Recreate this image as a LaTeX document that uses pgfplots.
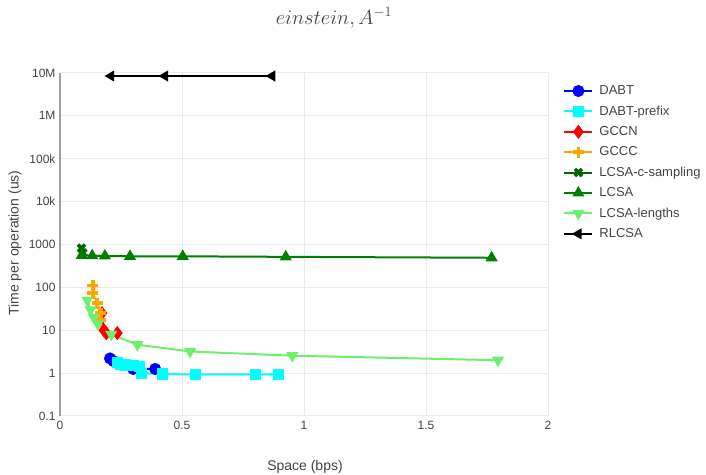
\documentclass[border=0pt]{standalone}
\usepackage{pgfplots}
\pgfplotsset{compat=1.18}
\usepackage{fontspec}
\setmainfont{Liberation Sans}
\definecolor{txt}{RGB}{68,68,68}
\definecolor{gridc}{RGB}{235,235,235}
\definecolor{axc}{RGB}{160,160,160}
\definecolor{cdabt}{RGB}{0,0,255}
\definecolor{cpref}{RGB}{0,255,255}
\definecolor{cgccn}{RGB}{255,0,0}
\definecolor{cgccc}{RGB}{255,165,0}
\definecolor{ccsamp}{RGB}{0,100,0}
\definecolor{clcsa}{RGB}{0,128,0}
\definecolor{clen}{RGB}{110,240,110}
\begin{document}
\begin{tikzpicture}[x=1bp,y=1bp]
\useasboundingbox (0,0) rectangle (706,475);
\begin{axis}[
  at={(60bp,59bp)}, anchor=south west,
  scale only axis, width=488bp, height=343bp,
  xmin=0, xmax=2, ymode=log, ymin=0.1, ymax=1e7,
  clip=false,
  axis line style={draw=none},
  major tick length=0pt, minor tick length=0pt,
  tick style={draw=none},
  xtick={0,0.5,1,1.5,2}, xticklabels={0,0.5,1,1.5,2},
  ytick={0.1,1,10,100,1000,10000,100000,1000000,10000000},
  yticklabels={0.1,1,10,100,1000,10k,100k,1M,10M},
  /pgf/number format/assume math mode=true,
  ticklabel style={font=\fontsize{12bp}{14bp}\selectfont, text=txt},
  xticklabel style={yshift=-2bp},
  yticklabel style={xshift=-1bp},
  grid=major, major grid style={gridc, line width=1bp},
  legend style={at={(1.025,0.972)}, anchor=north west, draw=none, fill=none,
    font=\fontsize{13bp}{15bp}\selectfont, text=txt, row sep=7.7bp, column sep=5bp,
    nodes={inner sep=1bp}},
  legend cell align=left,
  legend image code/.code={\draw[mark repeat=2,mark phase=2] plot coordinates {(0bp,0bp) (14bp,0bp) (28bp,0bp)};},
  every axis plot/.append style={line width=2bp},
]
\addplot[cdabt, mark=*, mark size=5bp, mark options={solid}] coordinates {
 (0.205,2.2) (0.22,1.9) (0.30,1.25) (0.39,1.25)};
\addlegendentry{DABT}
\addplot[cpref, mark=square*, mark size=4.6bp] coordinates {
 (0.235,1.8) (0.25,1.6) (0.27,1.55) (0.30,1.5) (0.325,1.45) (0.335,1.0) (0.42,0.95) (0.555,0.93) (0.80,0.93) (0.895,0.93)};
\addlegendentry{DABT-prefix}
\addplot[cgccn, mark=diamond*, mark size=5.5bp] coordinates {
 (0.172,25) (0.18,10) (0.19,8.5) (0.235,8.6)};
\addlegendentry{GCCN}
\addplot[cgccc, mark=+, mark size=5.5bp, mark options={line width=3.5bp}] coordinates {
 (0.135,112) (0.135,73) (0.152,43) (0.168,25) (0.164,17.2)};
\addlegendentry{GCCC}
\addplot[ccsamp, mark=x, mark size=5bp, mark options={line width=3.5bp}] coordinates {
 (0.088,820) (0.094,640)};
\addlegendentry{LCSA-c-sampling}
\addplot[clcsa, mark=triangle*, mark size=5bp] coordinates {
 (0.089,560) (0.132,550) (0.184,540) (0.287,530) (0.503,530) (0.925,515) (1.769,490)};
\addlegendentry{LCSA}
\addplot[clen, mark=triangle*, mark size=5bp, mark options={rotate=180}] coordinates {
 (0.112,50) (0.125,30) (0.138,20) (0.155,14) (0.21,8) (0.317,4.6) (0.533,3.2) (0.952,2.55) (1.795,2.0)};
\addlegendentry{LCSA-lengths}
\addplot[black, mark=triangle*, mark size=4.5bp, mark options={rotate=90}] coordinates {
 (0.209,8.5e6) (0.43,8.5e6) (0.869,8.5e6)};
\addlegendentry{RLCSA}
\draw[axc, line width=1.5bp] (axis cs:0,0.1) -- (axis cs:0,1e7);
\end{axis}
\node[text=txt, font=\fontsize{19bp}{22bp}\selectfont] at (334,457) {$einstein, A^{-1}$};
\node[text=txt, font=\fontsize{14bp}{17bp}\selectfont] at (305,8) {Space (bps)};
\node[text=txt, font=\fontsize{14bp}{17bp}\selectfont, rotate=90] at (15,232) {Time per operation (us)};
\end{tikzpicture}
\end{document}
